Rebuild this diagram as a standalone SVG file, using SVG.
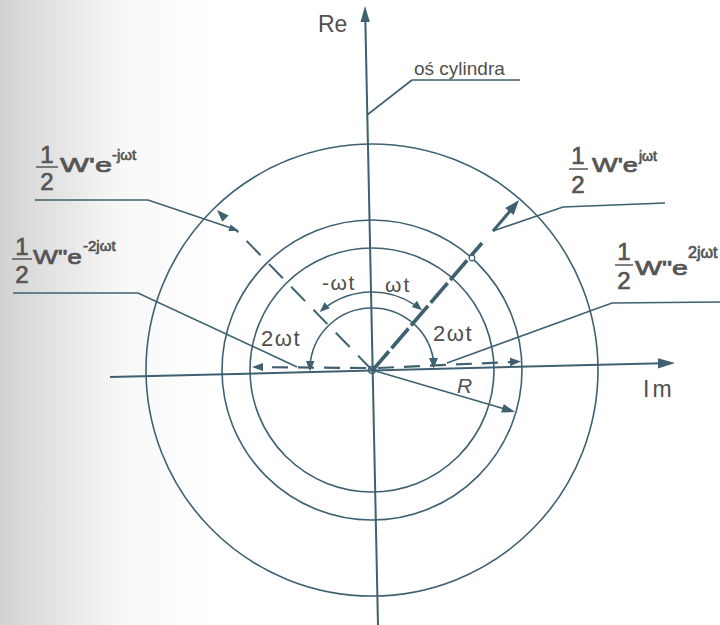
<svg xmlns="http://www.w3.org/2000/svg" width="720" height="625" viewBox="0 0 720 625">
<defs>
<linearGradient id="bg" x1="0" y1="0" x2="1" y2="0">
<stop offset="0" stop-color="#d2d2d2"/>
<stop offset="0.07" stop-color="#e2e2e2"/>
<stop offset="0.17" stop-color="#f8f8f8"/>
<stop offset="0.3" stop-color="#ffffff"/>
</linearGradient>
<style>
.ln{fill:none;stroke:#3f6070;stroke-width:1.6}
.ax{fill:none;stroke:#3f6070;stroke-width:2}
.ah{fill:#3f6070;stroke:none}
.t{font-family:"Liberation Sans",Arial,sans-serif;fill:#4f4f4f}
.f{font-family:"Liberation Sans",Arial,sans-serif;fill:#555;stroke:#555;stroke-width:0.7}
</style>
</defs>
<rect x="0" y="0" width="720" height="625" fill="url(#bg)"/>

<g id="circles">
<circle class="ln" cx="372" cy="370" r="226"/>
<circle class="ln" cx="372" cy="370" r="150"/>
<circle class="ln" cx="372" cy="370" r="122"/>
<circle class="ln" cx="372" cy="370" r="3.5" fill="#fff"/>
</g>

<g id="axes">
<line class="ax" x1="365.3" y1="18" x2="378" y2="625"/>
<polygon class="ah" points="365,6 360.5,22 369.8,22"/>
<line class="ax" x1="110" y1="377" x2="662" y2="363.3"/>
<polygon class="ah" points="675,363 658,358.2 658,368.6"/>
</g>

<g id="connectors">
<path class="ln" d="M370.2,292 A78,78 0 0 0 326.2,306.9"/>
<polygon class="ah" points="319.8,312 329.9,308.3 324.5,302.3"/>
<path class="ln" d="M370.2,292 A78,78 0 0 1 414.5,304.6"/>
<polygon class="ah" points="422.1,310.2 411.8,306.9 417,300.7"/>
<path class="ln" d="M370.6,308 A62,62 0 0 0 310.5,361"/>
<polygon class="ah" points="310,371.5 306,361 314.5,361"/>
<path class="ln" d="M370.6,308 A62,62 0 0 1 433.2,358.5"/>
<polygon class="ah" points="433.5,368.5 429,358 438,358"/>

<line x1="372" y1="371" x2="482" y2="243" stroke="#3f6070" stroke-width="3.6" stroke-dasharray="26 4"/>
<circle cx="472" cy="258" r="2.8" fill="#fff" stroke="#3f6070" stroke-width="1.2"/>
<line x1="493" y1="231" x2="511" y2="210" stroke="#3f6070" stroke-width="3"/>
<polygon class="ah" points="519,200 513.6,215 505.2,208"/>

<line x1="372" y1="370" x2="236" y2="230" stroke="#3f6070" stroke-width="2" stroke-dasharray="20 12"/>
<polygon class="ah" points="217,210 228.6,215.5 222.2,221.7"/>

<line x1="366" y1="368" x2="263" y2="367.2" stroke="#3f6070" stroke-width="2.2" stroke-dasharray="16 10"/>
<polygon class="ah" points="252,367 263,363 263,371"/>
<line x1="378" y1="368" x2="510" y2="362" stroke="#3f6070" stroke-width="2.2" stroke-dasharray="16 10"/>
<polygon class="ah" points="521,361.5 510,357.8 510,366.2"/>

<line class="ln" x1="372" y1="370" x2="504" y2="408.7"/>
<polygon class="ah" points="515,412 501.2,412.6 503.8,404"/>

<polyline class="ln" points="412,80 520,80"/>
<polyline class="ln" points="412,80 367,115"/>
<polyline class="ln" points="35,200 148,200 231,228"/>
<polygon class="ah" points="239,231 228.4,231.1 230.6,224.5"/>
<polyline class="ln" points="13,293 138,293 297,367"/>
<polyline class="ln" points="493,231 563,207 665,203"/>
<polyline class="ln" points="447,363 612,303 720,302"/>
</g>

<g id="label-re"><text class="t" x="318" y="32" font-size="23">Re</text></g>
<g id="label-im"><text class="t" x="643" y="397" font-size="23" letter-spacing="3">Im</text></g>
<g id="label-axis"><text class="t" x="414" y="75" font-size="19">oś cylindra</text></g>
<g id="label-R"><text class="t" x="457" y="393" font-size="21" font-style="italic">R</text></g>
<g id="label-angles">
<text class="t" x="261" y="346" font-size="22" letter-spacing="1.5">2ωt</text>
<text class="t" x="433" y="341" font-size="22" letter-spacing="1.5">2ωt</text>
<text class="t" x="322" y="290" font-size="21" letter-spacing="1.5">-ωt</text>
<text class="t" x="385" y="292" font-size="21" letter-spacing="2">ωt</text>
</g>

<g id="label-w1-neg">
<text class="f" x="47" y="163" font-size="24" text-anchor="middle">1</text>
<line x1="36" y1="167" x2="58" y2="167" stroke="#555" stroke-width="1.5"/>
<text class="f" x="47" y="190" font-size="24" text-anchor="middle">2</text>
<text class="f" x="60" y="172" font-size="21" textLength="52" lengthAdjust="spacingAndGlyphs">W'e</text>
<text class="f" x="112" y="160" font-size="15" stroke-width="0.4">-jωt</text>
</g>

<g id="label-w2-neg">
<text class="f" x="22" y="255" font-size="24" text-anchor="middle">1</text>
<line x1="12" y1="259" x2="32" y2="259" stroke="#555" stroke-width="1.5"/>
<text class="f" x="22" y="283" font-size="24" text-anchor="middle">2</text>
<text class="f" x="33" y="264" font-size="21" textLength="49" lengthAdjust="spacingAndGlyphs">W"e</text>
<text class="f" x="83" y="251" font-size="15" stroke-width="0.4">-2jωt</text>
</g>

<g id="label-w1-pos">
<text class="f" x="578" y="164" font-size="24" text-anchor="middle">1</text>
<line x1="569" y1="169" x2="588" y2="169" stroke="#555" stroke-width="1.5"/>
<text class="f" x="578" y="193" font-size="24" text-anchor="middle">2</text>
<text class="f" x="592" y="172" font-size="20" textLength="46" lengthAdjust="spacingAndGlyphs">W'e</text>
<text class="f" x="639" y="161" font-size="14" stroke-width="0.4">jωt</text>
</g>

<g id="label-w2-pos">
<text class="f" x="624" y="260" font-size="24" text-anchor="middle">1</text>
<line x1="615" y1="265" x2="633" y2="265" stroke="#555" stroke-width="1.5"/>
<text class="f" x="624" y="289" font-size="24" text-anchor="middle">2</text>
<text class="f" x="635" y="275" font-size="21" textLength="53" lengthAdjust="spacingAndGlyphs">W"e</text>
<text class="f" x="688" y="258" font-size="16" stroke-width="0.4">2jωt</text>
</g>
</svg>
